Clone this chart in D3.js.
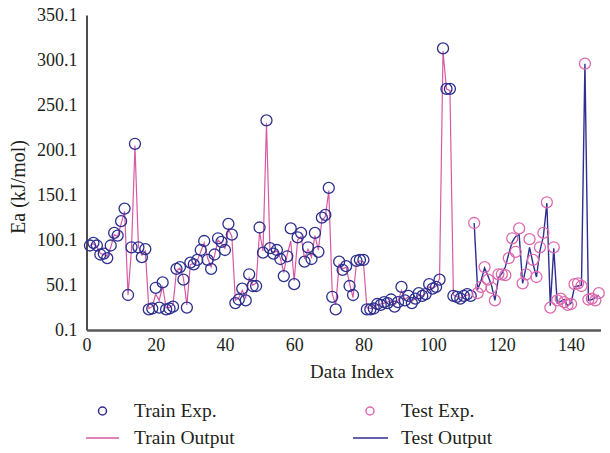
<!DOCTYPE html>
<html>
<head>
<meta charset="utf-8">
<script src="https://cdn.jsdelivr.net/npm/d3@7"></script>
<style>
  html, body { margin: 0; padding: 0; background: #fff; }
  svg text { font-family: "Liberation Serif", "DejaVu Serif", serif; fill: #231f20; }
</style>
</head>
<body>
<svg id="chart" width="610" height="453"></svg>
<script>
// ---- data ----
const trainIndex = d3.range(1, 112);
const trainExp = [94, 97, 94, 84, 85, 80, 94, 108, 105, 121,
  135, 39, 92, 207, 92, 81, 90, 23, 24, 47,
  25, 53, 23, 24, 26, 68, 70, 56, 25, 75,
  73, 78, 89, 99, 78, 68, 84, 102, 98, 89,
  118, 106, 30, 34, 46, 33, 62, 49, 49, 114,
  86, 233, 91, 85, 89, 79, 60, 82, 113, 51,
  103, 108, 76, 92, 79, 108, 87, 125, 128, 158,
  37, 23, 76, 67, 71, 49, 39, 77, 78, 78,
  23, 23, 24, 29, 28, 31, 30, 34, 26, 31,
  48, 33, 38, 30, 35, 41, 38, 40, 51, 46,
  48, 56, 313, 268, 268, 38, 37, 35, 38, 40,
  38];
const trainOut = [94, 96, 93, 85, 84, 82, 92, 106, 104, 118,
  132, 39, 90, 205, 93, 83, 88, 24, 26, 40,
  33, 49, 25, 25, 28, 66, 69, 58, 28, 73,
  74, 77, 87, 97, 80, 70, 83, 100, 96, 91,
  112, 104, 33, 36, 44, 36, 58, 50, 52, 109,
  88, 230, 90, 86, 88, 80, 64, 84, 99, 55,
  100, 104, 79, 90, 81, 105, 89, 122, 126, 155,
  40, 28, 73, 68, 70, 52, 36, 75, 77, 76,
  25, 24, 25, 28, 29, 30, 31, 33, 28, 32,
  44, 34, 37, 32, 35, 39, 38, 41, 48, 46,
  49, 57, 310, 268, 266, 39, 37, 36, 37, 39,
  39];
const testIndex = d3.range(112, 149);
const testExp = [119, 41, 48, 70, 56, 47, 33, 62, 62, 61,
  80, 102, 87, 113, 52, 62, 101, 78, 59, 92,
  108, 142, 25, 92, 33, 35, 31, 28, 29, 51,
  52, 49, 296, 34, 35, 33, 41];
const testOut = [119, 45, 55, 69, 60, 50, 33, 58, 63, 70,
  85, 98, 104, 106, 52, 70, 92, 74, 59, 88,
  104, 141, 27, 91, 30, 32, 34, 27, 30, 48,
  49, 50, 296, 33, 34, 36, 39];
const yTicks = [0.1, 50.1, 100.1, 150.1, 200.1, 250.1, 300.1, 350.1];
const xTicks = [0, 20, 40, 60, 80, 100, 120, 140];

// ---- layout ----
const svg = d3.select("#chart");
const x = d3.scaleLinear().domain([0, 148.5]).range([86.5, 600.5]);
const y = d3.scaleLinear().domain([0.1, 350.1]).range([330, 15]);

const NAVY = "#2e2f8f";
const PINK = "#dd6aae";
const PINK_LINE = "#d65aa4";

// y axis
const yAxis = svg.append("g").attr("transform", "translate(86.5,0)")
  .call(d3.axisLeft(y).tickValues(yTicks).tickFormat(d => d.toFixed(1)).tickSize(0).tickPadding(9));
yAxis.select(".domain").attr("stroke", "#231f20").attr("stroke-width", 1.6);
yAxis.selectAll("text").style("font-size", "18px").attr("fill", "#231f20");

// x axis
const xAxis = svg.append("g").attr("transform", "translate(0,330)")
  .call(d3.axisBottom(x).tickValues(xTicks).tickFormat(d3.format("d")).tickSize(0).tickPadding(8));
xAxis.select(".domain").attr("stroke", "#5a5a5a").attr("stroke-width", 2.6);
xAxis.selectAll("text").style("font-size", "18px").attr("fill", "#231f20");

// axis titles
svg.append("text").attr("x", 352).attr("y", 378).attr("text-anchor", "middle")
  .style("font-size", "19px").text("Data Index");
svg.append("text").attr("transform", "translate(25,187) rotate(-90)")
  .attr("text-anchor", "middle").style("font-size", "20px").text("Ea (kJ/mol)");

const line = d3.line().x(d => x(d[0])).y(d => y(d[1]));
const train = trainIndex.map((k, i) => [k, trainExp[i], trainOut[i]]);
const test = testIndex.map((k, i) => [k, testExp[i], testOut[i]]);

// train output line
svg.append("path").datum(train.map(d => [d[0], d[2]]))
  .attr("d", line).attr("fill", "none").attr("stroke", PINK_LINE).attr("stroke-width", 1.2);
// test output line
svg.append("path").datum(test.map(d => [d[0], d[2]]))
  .attr("d", line).attr("fill", "none").attr("stroke", NAVY).attr("stroke-width", 1.4);

// train exp circles
svg.append("g").selectAll("circle").data(train).join("circle")
  .attr("cx", d => x(d[0])).attr("cy", d => y(d[1])).attr("r", 5.5)
  .attr("fill", "none").attr("stroke", NAVY).attr("stroke-width", 1.3);
// test exp circles
svg.append("g").selectAll("circle").data(test).join("circle")
  .attr("cx", d => x(d[0])).attr("cy", d => y(d[1])).attr("r", 5.5)
  .attr("fill", "none").attr("stroke", PINK).attr("stroke-width", 1.3);

// legend
const leg = svg.append("g");
leg.append("circle").attr("cx", 102.5).attr("cy", 411).attr("r", 4)
  .attr("fill", "none").attr("stroke", NAVY).attr("stroke-width", 1.5);
leg.append("text").attr("x", 134).attr("y", 417).style("font-size", "19.5px").text("Train Exp.");
leg.append("circle").attr("cx", 370).attr("cy", 411).attr("r", 4)
  .attr("fill", "none").attr("stroke", PINK).attr("stroke-width", 1.5);
leg.append("text").attr("x", 401).attr("y", 417).style("font-size", "19.5px").text("Test Exp.");
leg.append("line").attr("x1", 86).attr("x2", 119).attr("y1", 438).attr("y2", 438)
  .attr("stroke", PINK_LINE).attr("stroke-width", 1.3);
leg.append("text").attr("x", 134).attr("y", 444).style("font-size", "19.5px").text("Train Output");
leg.append("line").attr("x1", 353).attr("x2", 388).attr("y1", 438).attr("y2", 438)
  .attr("stroke", NAVY).attr("stroke-width", 1.3);
leg.append("text").attr("x", 401).attr("y", 444).style("font-size", "19.5px").text("Test Output");
</script>
</body>
</html>
